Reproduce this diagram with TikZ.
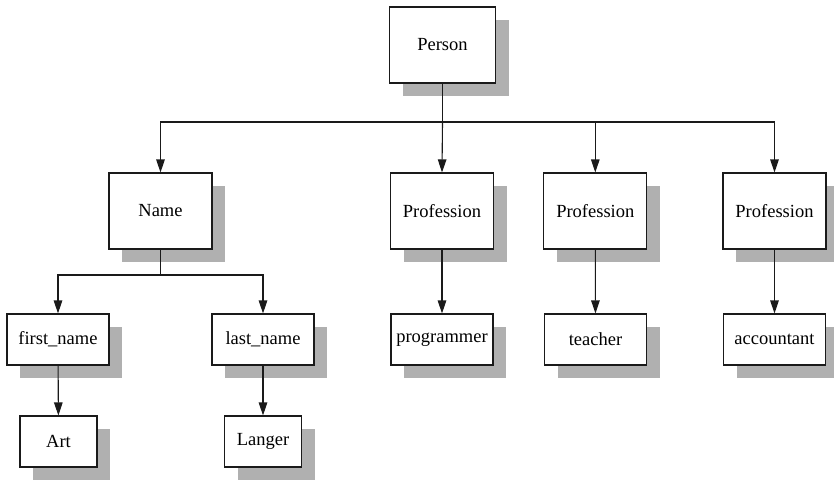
\documentclass[tikz,border=0pt]{standalone}
\usepackage{fontspec}
\setmainfont{Liberation Serif}
\usetikzlibrary{shadows,arrows.meta}
\definecolor{shadowgray}{HTML}{B0B0B0}
\definecolor{linegray}{HTML}{1A1A1A}
\tikzset{
  box/.style={draw=linegray, line width=1.1pt, fill=white, inner sep=0pt,
    font=\fontsize{18.5}{22}\selectfont,
    drop shadow={fill=shadowgray, opacity=1, shadow xshift=13pt, shadow yshift=-13pt}},
  bigbox/.style={box, minimum width=103pt, minimum height=76pt},
  midbox/.style={box, minimum width=102pt, minimum height=51pt},
  smallbox/.style={box, minimum width=77pt, minimum height=51pt},
  conn/.style={draw=linegray, line width=1.1pt},
  arr/.style={conn, -{Triangle[length=13pt,width=8.5pt]}}
}
\begin{document}
\begin{tikzpicture}[x=1pt,y=-1pt]
\useasboundingbox (0,0) rectangle (834,479);
\node[bigbox, minimum width=106pt] (person) at (442.5,45) {Person};
\node[bigbox] (name) at (160.5,211) {Name};
\node[bigbox] (prof1) at (442,211) {Profession};
\node[bigbox] (prof2) at (595.3,211) {Profession};
\node[bigbox] (prof3) at (774.5,211) {Profession};
\node[midbox] (first) at (58,339.5) {first\_name};
\node[midbox] (last) at (263,339.5) {last\_name};
\node[midbox] (prog) at (442,339.5) {programmer};
\node[midbox] (teach) at (595.5,339.5) {teacher};
\node[midbox] (acct) at (774.5,339.5) {accountant};
\node[smallbox] (art) at (58.5,441.5) {Art};
\node[smallbox] (langer) at (263,441.5) {Langer};
\coordinate (bus) at (0,122);
\coordinate (namebus) at (0,275);
% Person to children
\draw[arr] (person.south) -- (person.south |- bus) -| (name.north);
\draw[arr] (person.south |- bus) -- (prof1.north);
\draw[arr] (person.south |- bus) -| (prof2.north);
\draw[arr] (person.south |- bus) -| (prof3.north);
% Name to children
\draw[arr] (name.south) -- (name.south |- namebus) -| (first.north);
\draw[arr] (name.south |- namebus) -| (last.north);
% Professions to values
\draw[arr] (prof1) -- (prog);
\draw[arr] (prof2) -- (teach);
\draw[arr] (prof3) -- (acct);
% Names to values
\draw[arr] (first) -- (art);
\draw[arr] (last) -- (langer);
\end{tikzpicture}
\end{document}
